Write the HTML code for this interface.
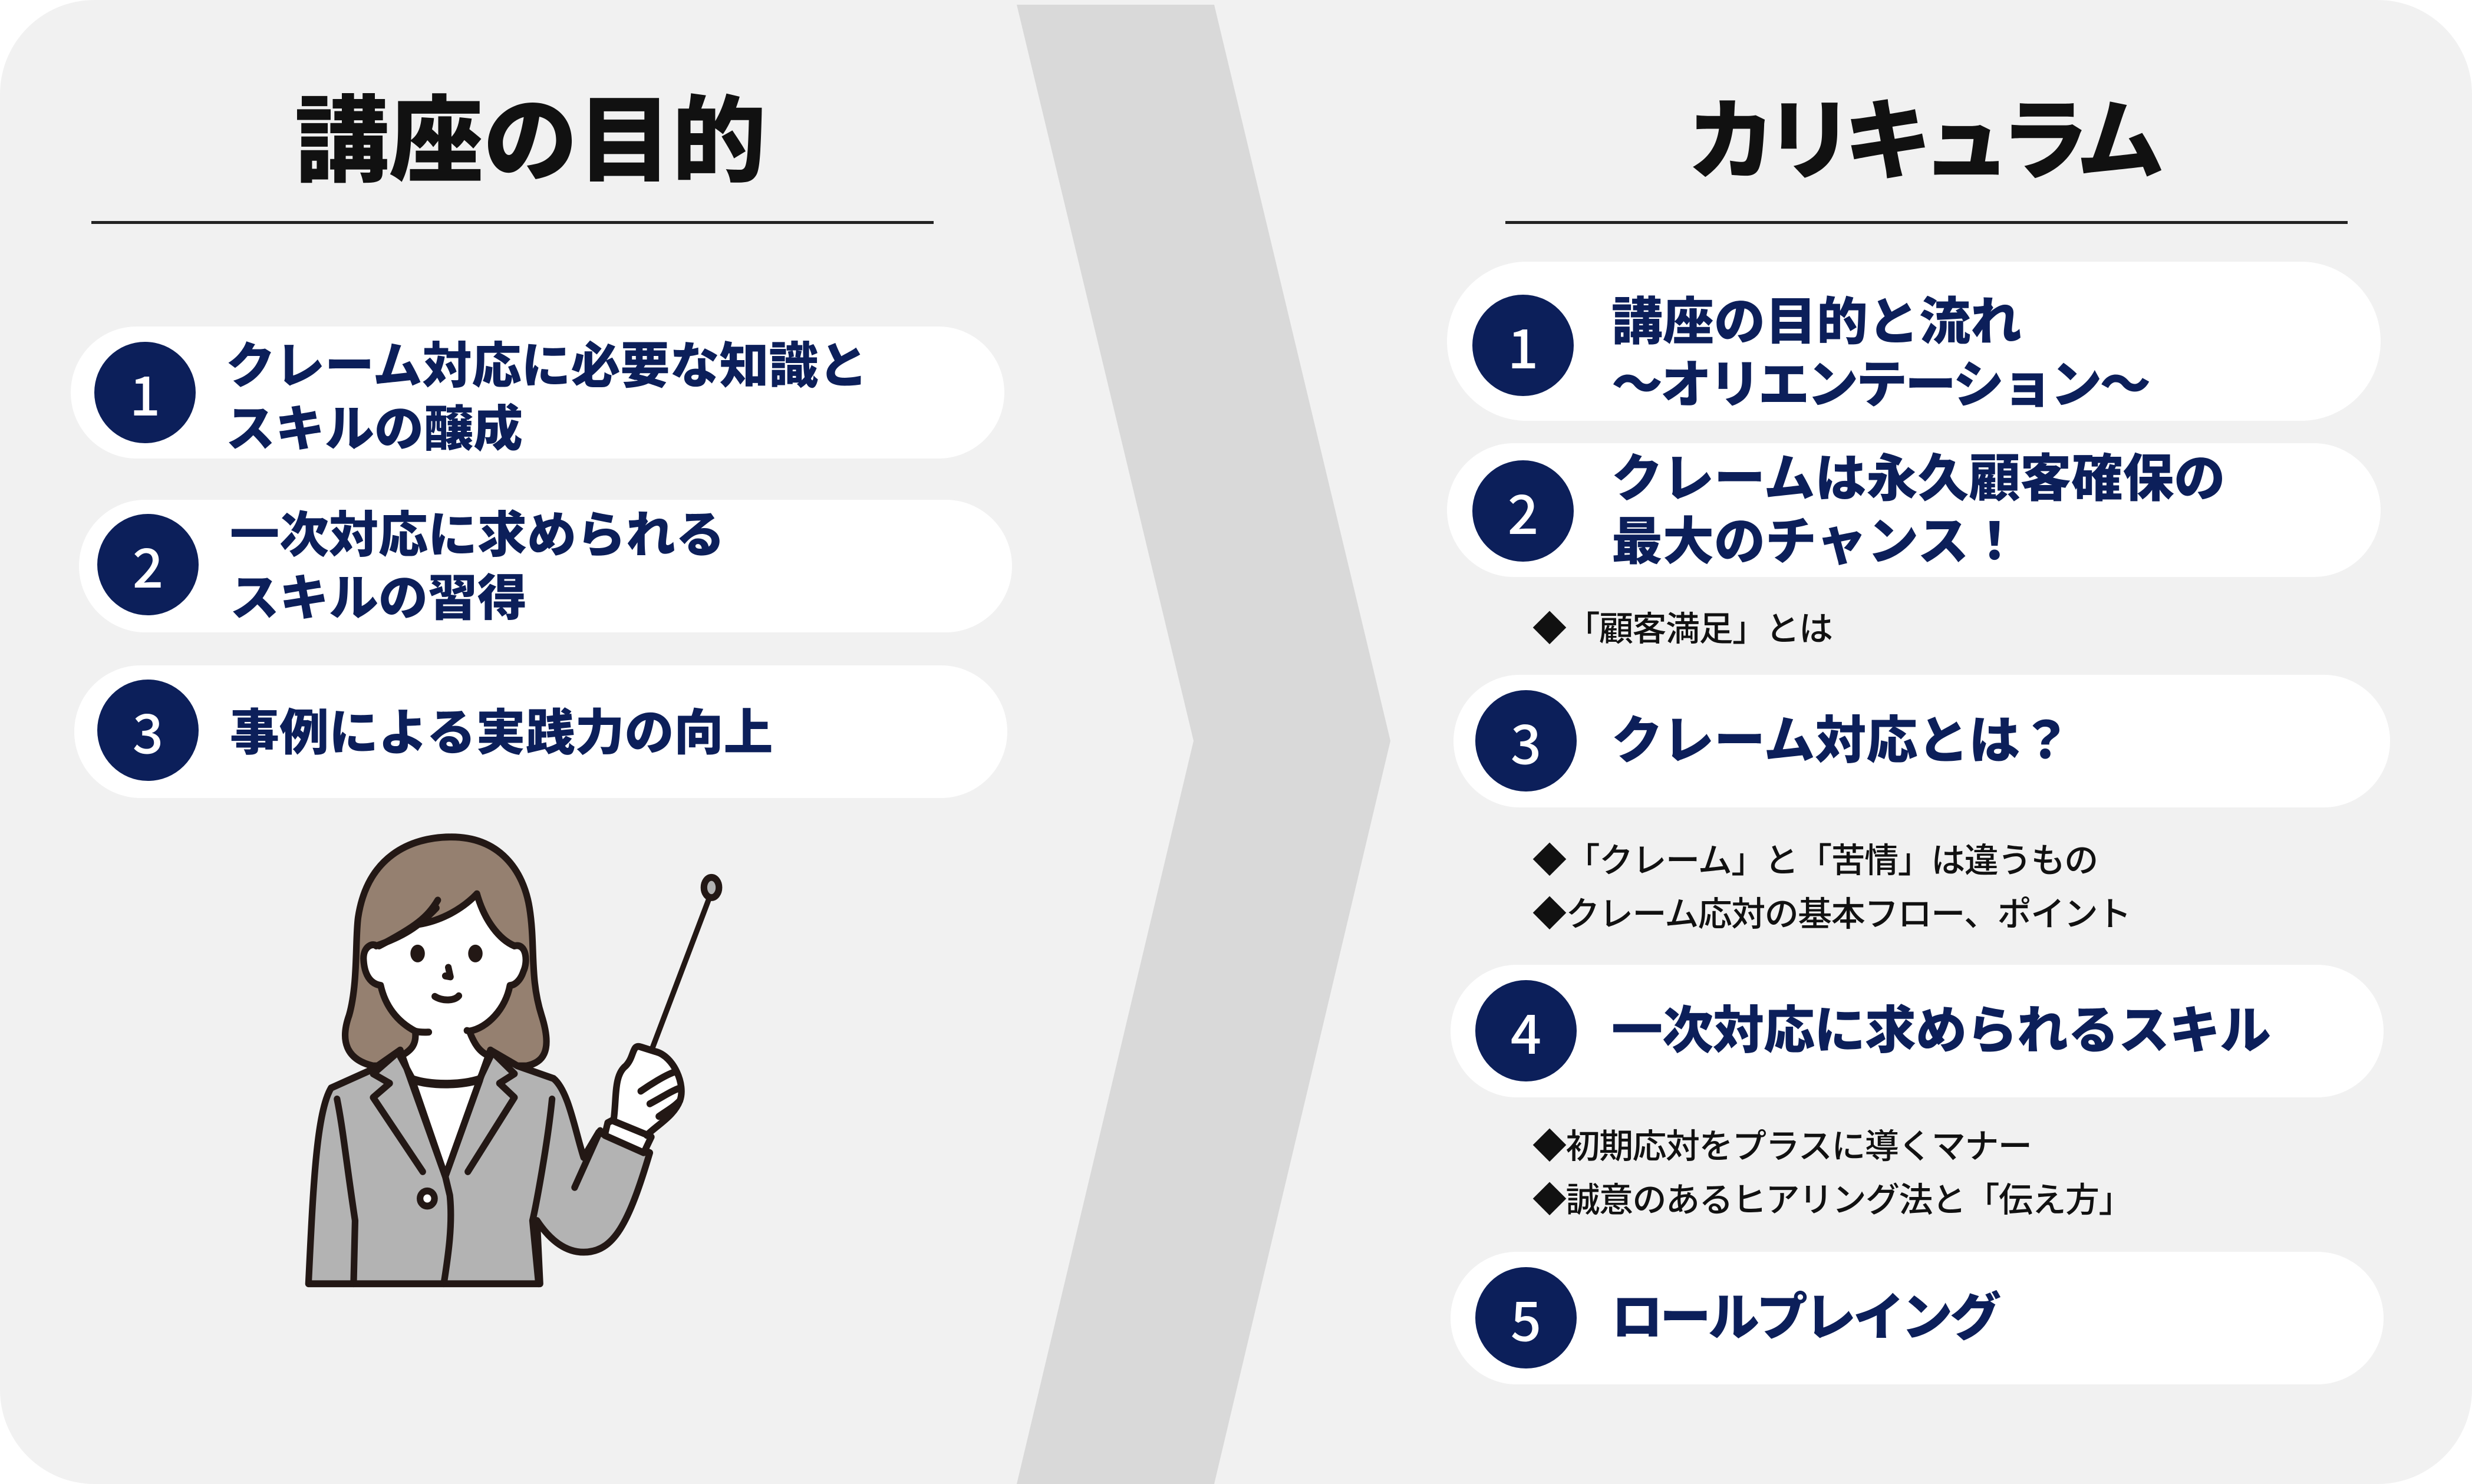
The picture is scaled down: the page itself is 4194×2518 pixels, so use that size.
<!DOCTYPE html>
<html><head><meta charset="utf-8"><style>
html,body{margin:0;padding:0;background:#fff;}
#c{position:relative;width:4194px;height:2518px;overflow:hidden;background:#fff;font-family:"Liberation Sans","Noto Sans CJK JP",sans-serif;}
.bg{position:absolute;left:0;top:0;width:4194px;height:2518px;border-radius:160px;background:#f1f1f1;}
.t{position:absolute;font-weight:900;color:#111;white-space:nowrap;}
.ln{position:absolute;height:5px;background:#222;}
.pill{position:absolute;background:#fff;border-radius:120px;}
.cir{position:absolute;width:172px;height:172px;border-radius:50%;background:#0c1f5a;color:#fff;font-family:"Noto Sans CJK JP",sans-serif;font-weight:500;font-size:92px;line-height:172px;text-align:center;}
.pt{position:absolute;color:#0c1f5a;font-weight:900;font-size:84px;line-height:107px;white-space:nowrap;transform:translateY(-50%);}
.bl{position:absolute;color:#111;font-weight:500;font-size:58px;line-height:91px;white-space:nowrap;letter-spacing:-1.5px;}
</style></head><body><div id="c">
<div class="bg"></div>
<svg style="position:absolute;left:0;top:0" width="4194" height="2518"><polygon points="1725,8 2060,8 2359,1257 2060,2518 1725,2518 2025,1257" fill="#d9d9d9"/></svg>

<div class="t" style="left:500px;top:140px;font-size:160px;line-height:200px;">講座の目的</div>
<div class="ln" style="left:155px;top:375px;width:1429px;"></div>
<div class="t" style="left:2862px;top:140px;font-size:150px;line-height:200px;letter-spacing:-17px;">カリキュラム</div>
<div class="ln" style="left:2554px;top:375px;width:1429px;"></div>

<div class="pill" style="left:120px;top:554px;width:1584px;height:224px;"></div>
<div class="cir" style="left:160px;top:580px;">1</div>
<div class="pt" style="left:383px;top:675px;">クレーム対応に必要な知識と<br>スキルの醸成</div>
<div class="pill" style="left:134px;top:848px;width:1583px;height:225px;"></div>
<div class="cir" style="left:165px;top:872px;">2</div>
<div class="pt" style="left:390px;top:962px;">一次対応に求められる<br>スキルの習得</div>
<div class="pill" style="left:126px;top:1129px;width:1583px;height:225px;"></div>
<div class="cir" style="left:165px;top:1153px;">3</div>
<div class="pt" style="left:390px;top:1244px;">事例による実践力の向上</div>

<div class="pill" style="left:2455px;top:444px;width:1584px;height:270px;border-radius:135px;"></div>
<div class="cir" style="left:2498px;top:500px;">1</div>
<div class="pt" style="left:2734px;top:600px;font-size:87px;">講座の目的と流れ<br><span style="letter-spacing:-4px">～オリエンテーション～</span></div>
<div class="pill" style="left:2455px;top:752px;width:1584px;height:227px;"></div>
<div class="cir" style="left:2498px;top:781px;">2</div>
<div class="pt" style="left:2734px;top:866px;font-size:87px;">クレームは永久顧客確保の<br>最大のチャンス！</div>
<div class="bl" style="left:2600px;top:1022px;">◆「顧客満足」とは</div>
<div class="pill" style="left:2466px;top:1145px;width:1589px;height:225px;"></div>
<div class="cir" style="left:2503px;top:1171px;">3</div>
<div class="pt" style="left:2734px;top:1257px;font-size:87px;">クレーム対応とは？</div>
<div class="bl" style="left:2600px;top:1415px;">◆「クレーム」と「苦情」は違うもの<br>◆クレーム応対の基本フロー、ポイント</div>
<div class="pill" style="left:2461px;top:1637px;width:1583px;height:225px;"></div>
<div class="cir" style="left:2503px;top:1663px;">4</div>
<div class="pt" style="left:2734px;top:1749px;font-size:87px;letter-spacing:-1px;">一次対応に求められるスキル</div>
<div class="bl" style="left:2600px;top:1900px;">◆初期応対をプラスに導くマナー<br>◆誠意のあるヒアリング法と「伝え方」</div>
<div class="pill" style="left:2461px;top:2124px;width:1583px;height:225px;"></div>
<div class="cir" style="left:2503px;top:2150px;">5</div>
<div class="pt" style="left:2734px;top:2236px;font-size:87px;letter-spacing:-5px;">ロールプレイング</div>

<svg style="position:absolute;left:480px;top:1380px" width="800" height="840" viewBox="0 0 1568 1568" preserveAspectRatio="none">
<g stroke="#231815" stroke-width="22" stroke-linecap="round" stroke-linejoin="round">
<path d="M300,800 C210,780 190,720 220,640 C250,540 240,400 250,330 C280,140 420,75 560,75 C720,75 800,180 820,300 C840,420 820,520 860,640 C900,760 860,790 810,800 Z" fill="#958070"/>
<path d="M85,1490 C100,1200 110,950 160,870 L300,810 L390,750 L540,1150 L690,750 L780,800 L900,840 C950,880 970,1000 1000,1090 L1050,1010 L1220,1075 C1150,1300 1100,1390 1000,1390 C930,1390 880,1340 845,1290 L855,1490 Z" fill="#b3b3b3"/>
<path d="M310,420 C400,390 450,360 510,300 L450,352 C530,340 600,300 645,255 C670,340 720,400 770,420 C810,410 815,470 800,500 C790,530 770,545 755,545 C740,620 680,680 620,690 C640,740 660,760 690,770 L655,840 C590,860 490,860 430,840 L390,770 C430,750 445,730 440,690 C380,660 340,610 325,545 C290,540 270,510 268,460 C268,420 300,410 310,420 Z" fill="#fff"/>
<path d="M430,845 L540,1150 L655,845 C590,865 490,865 430,845 Z" fill="#fff"/>
<path d="M300,810 L390,750 L540,1150 M690,750 L540,1150 L555,1210 C565,1300 550,1400 535,1490" fill="none"/>
<path d="M390,750 L300,825 L355,855 L300,900 L465,1135 M690,750 L770,825 L720,855 L770,900 L615,1135" fill="none"/>
<path d="M180,905 C200,1000 210,1100 240,1290 L235,1490 M895,905 C880,1050 840,1250 830,1290 L850,1490" fill="none"/>
<circle cx="480" cy="1220" r="24" fill="#fff"/>
<path d="M970,1185 L1055,1005" fill="none"/>
<path d="M1080,980 L1100,970 C1110,900 1100,830 1140,800 C1170,770 1160,730 1190,740 L1240,755 C1300,770 1340,860 1320,910 C1300,960 1240,990 1210,1020 L1225,1025 L1200,1075 L1070,1020 Z" fill="#fff"/>
<path d="M1230,740 L1425,250" fill="none" stroke-width="18"/>
<ellipse cx="1425" cy="235" rx="25" ry="32" fill="#b3b3b3"/>
<path d="M1190,880 C1220,860 1270,830 1300,820 M1220,920 C1260,900 1290,880 1320,870 M1250,960 C1280,940 1300,930 1320,910" fill="none"/>
<path d="M1100,975 L1215,1020" fill="none"/>
<path d="M515,275 C480,330 440,360 320,420 M645,255 C670,340 720,400 770,420" fill="none"/>
<path d="M505,580 C530,595 570,595 585,578 M550,488 L557,518 L540,515" fill="none"/>
<path d="M440,690 C460,695 480,693 485,693 M620,690 L612,688" fill="none"/>
</g>
<ellipse cx="448" cy="444" rx="24" ry="28" fill="#231815"/>
<ellipse cx="640" cy="444" rx="24" ry="28" fill="#231815"/>
</svg>
</div></body></html>
